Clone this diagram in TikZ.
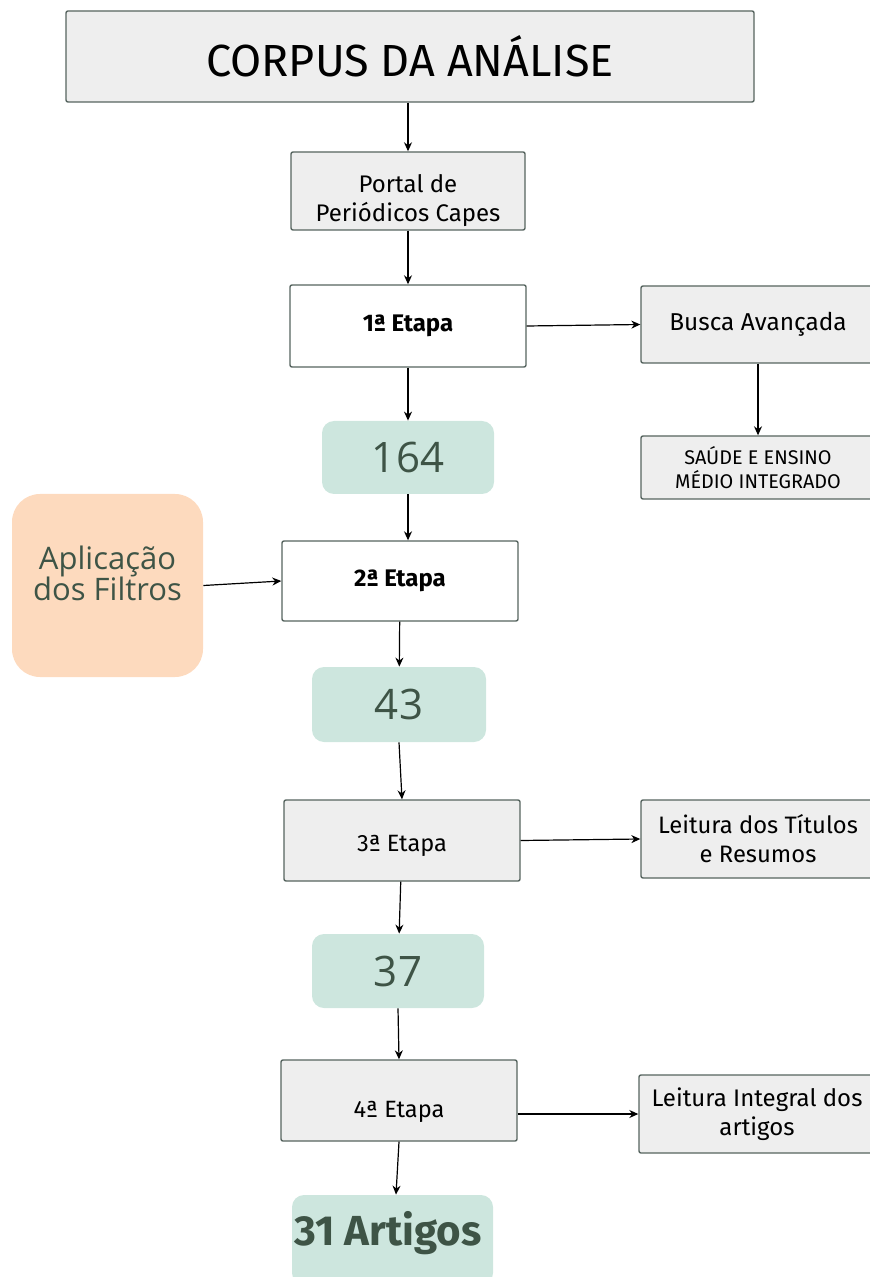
\documentclass[tikz,border=0pt]{standalone}
\usepackage{fontspec}
\setmainfont{Fira Sans}
\newfontfamily\numfont{Open Sans}
\usetikzlibrary{arrows.meta}

\definecolor{edge}{HTML}{56645F}
\definecolor{boxgray}{HTML}{EEEEEE}
\definecolor{mint}{HTML}{CDE6DE}
\definecolor{peach}{HTML}{FDDABE}
\definecolor{darkgreen}{HTML}{3E5446}

\tikzset{
  box/.style={draw=edge, line width=0.7pt, fill=boxgray, rounded corners=1pt,
    inner sep=0pt, align=center},
  whitebox/.style={box, fill=white},
  count/.style={fill=mint, rounded corners=6pt, inner sep=0pt, align=center,
    text=darkgreen, font=\numfont\fontsize{21}{24}\selectfont},
  flow/.style={-{Stealth[length=4.5pt,width=4pt]}, line width=0.6pt}
}

\begin{document}
\begin{tikzpicture}[x=0.5pt, y=-0.5pt]
    \useasboundingbox (0,0) rectangle (869,1277);

    % main column
    \node[box, minimum width=344pt, minimum height=45.5pt,
      font=\fontsize{22.5}{24}\selectfont] (title) at (410,56.5) {CORPUS DA ANÁLISE};
    \node[box, minimum width=117pt, minimum height=39pt,
      font=\fontsize{12}{14.5}\selectfont] (portal) at (408,191) {\rule{0pt}{19pt}Portal de\\Periódicos Capes};
    \node[whitebox, minimum width=118pt, minimum height=41pt,
      font=\fontsize{12}{14}\selectfont\bfseries] (etapa1) at (408,326) {1ª Etapa};
    \node[count, minimum width=86pt, minimum height=36.5pt] (n164) at (408,457.5) {164};
    \node[whitebox, minimum width=118pt, minimum height=40pt,
      font=\fontsize{12}{14}\selectfont\bfseries] (etapa2) at (400,581) {2ª Etapa};
    \node[count, minimum width=87pt, minimum height=37.5pt] (n43) at (399,704.5) {43};
    \node[box, minimum width=118pt, minimum height=40.5pt, text height=11pt, text depth=0pt,
      font=\fontsize{11.8}{14}\selectfont] (etapa3) at (402,840.5) {3ª Etapa};
    \node[count, minimum width=86pt, minimum height=37pt] (n37) at (398,971) {37};
    \node[box, minimum width=118pt, minimum height=40.5pt, text height=17pt, text depth=0pt,
      font=\fontsize{11.8}{14}\selectfont] (etapa4) at (399,1100.5) {4ª Etapa};
    \node[count, minimum width=100.5pt, minimum height=45pt, text height=5pt, text depth=0pt,
      font=\fontsize{21}{24}\selectfont\bfseries] (n31) at (392.5,1240) {\makebox[0pt]{31 Artigos\hspace*{4.5pt}}};

    % side boxes
    \node[box, minimum width=117pt, minimum height=38.5pt,
      font=\fontsize{12.2}{14}\selectfont] (busca) at (758,324.5) {Busca Avançada};
    \node[box, minimum width=117pt, minimum height=31.5pt,
      font=\fontsize{9.9}{12}\selectfont] (saude) at (758,467.5) {SAÚDE E ENSINO\\MÉDIO INTEGRADO};
    \node[box, minimum width=117pt, minimum height=39pt,
      font=\fontsize{11.9}{14.5}\selectfont] (titulos) at (758,839) {Leitura dos Títulos\\e Resumos};
    \node[box, minimum width=118pt, minimum height=39pt,
      font=\fontsize{12}{14.5}\selectfont] (leitint) at (757,1114) {Leitura Integral dos\\artigos};
    \node[fill=peach, rounded corners=14pt, minimum width=95.5pt, minimum height=91.5pt,
      inner sep=0pt, align=center, text=darkgreen, text depth=12pt,
      font=\numfont\fontsize{15.5}{15.5}\selectfont] (filtros) at (107.5,585.5) {Aplicação\\dos Filtros};

    % connectors
    \draw[flow] (title.south -| portal.north) -- (portal.north);
    \draw[flow] (portal) -- (etapa1);
    \draw[flow] (etapa1.east) -- (busca.west);
    \draw[flow] (busca) -- (saude);
    \draw[flow] (etapa1) -- (n164);
    \draw[flow] (n164.south) -- (n164.south |- etapa2.north);
    \draw[flow] (filtros.east) -- (etapa2.west);
    \draw[flow] (etapa2) -- (n43);
    \draw[flow] (n43.south) -- (etapa3.north);
    \draw[flow] (etapa3.east) -- (titulos.west);
    \draw[flow] (etapa3) -- (n37);
    \draw[flow] (n37.south) -- (etapa4.north);
    \draw[flow] (etapa4.east |- leitint.west) -- (leitint.west);
    \draw[flow] (etapa4.south) -- (n31.north -| 396,0);
\end{tikzpicture}
\end{document}
